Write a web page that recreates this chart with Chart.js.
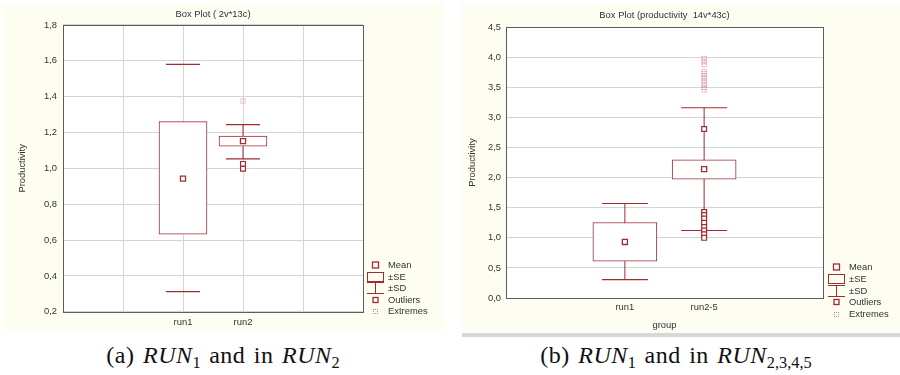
<!DOCTYPE html>
<html>
<head>
<meta charset="utf-8">
<script src="https://cdn.jsdelivr.net/npm/chart.js@4.4.1/dist/chart.umd.min.js"></script>
<style>
  body { margin: 0; width: 900px; height: 375px; background: #fff; position: relative; overflow: hidden;
         font-family: 'Liberation Sans', Arial, sans-serif; }
  .panel { position: absolute; background: #fdfdf2; }
  #panelA { left: 3px; top: 3px; width: 442px; height: 327px; }
  #panelB { left: 462px; top: 3px; width: 438px; height: 330px; }
  #stripB { position: absolute; left: 462px; top: 333px; width: 438px; height: 4px; background: #d8d8d8; }
  .panel > canvas { position: absolute; left: 0; top: 0; }
  .legend { position: absolute; font-size: 9.4px; color: #333; }
  .legend .row { position: absolute; left: 0; height: 12px; width: 80px; }
  .legend .row canvas { position: absolute; left: 0; top: 0; }
  .legend .row span { position: absolute; left: 21px; top: 0; line-height: 12px; white-space: nowrap; }
  .caption { position: absolute; top: 341px; line-height: 28px; font-family: 'Liberation Serif', serif;
             font-size: 24px; letter-spacing: 0.5px; word-spacing: 2px; color: #111; white-space: nowrap;
             transform: translateX(-50%); }
  .caption sub { font-size: 68%; vertical-align: -0.28em; line-height: 0; letter-spacing: 0; }
</style>
</head>
<body>
<div class="panel" id="panelA"><canvas id="chartA" width="442" height="327"></canvas></div>
<div class="panel" id="panelB"><canvas id="chartB" width="438" height="330"></canvas></div>
<div id="stripB"></div>
<div class="legend" id="legendA" style="left:367px; top:259px;"></div>
<div class="legend" id="legendB" style="left:828px; top:261px;"></div>
<div class="caption" style="left:223px;">(a) <i>RUN</i><sub>1</sub> and in <i>RUN</i><sub>2</sub></div>
<div class="caption" style="left:676px;">(b) <i>RUN</i><sub>1</sub> and in <i>RUN</i><sub>2,3,4,5</sub></div>

<script>
// Panel (a): run1 vs run2
const categoriesA = ['run1', 'run2'];
const meanA = [0.943, 1.152];
const seLowA = [0.633, 1.124];
const seHighA = [1.261, 1.180];
const sdLowA = [0.313, 1.053];
const sdHighA = [1.580, 1.244];
const outliersA = [[], [1.025, 0.998]];
const extremesA = [[], [1.376]];
const stemA = [false, true];

// Panel (b): run1 vs run2-5
const categoriesB = ['run1', 'run2-5'];
const meanB = [0.932, 2.142];
const seLowB = [0.611, 1.975];
const seHighB = [1.255, 2.297];
const sdLowB = [0.306, 1.122];
const sdHighB = [1.571, 3.162];
const outliersB = [[], [2.81, 1.43, 1.38, 1.32, 1.25, 1.18, 1.12, 1.06, 1.00]];
const extremesB = [[], [3.98, 3.93, 3.88, 3.77, 3.73, 3.69, 3.65, 3.60, 3.55, 3.50, 3.46]];
const stemB = [true, true];

const legendLabels = ['Mean', '±SE', '±SD', 'Outliers', 'Extremes'];

const RED = '#a02c32';
const PINK = '#d77f84';
const GRID = '#d4d4d4';
const FRAME = '#5c5c5c';
const TEXT = '#333';
const FONT = { family: "'Liberation Sans', Arial, sans-serif", size: 9.4 };

// small glyphs used by the legend (and for extreme points)
function glyph(kind, w, h) {
  const c = document.createElement('canvas');
  c.width = w; c.height = h;
  const g = c.getContext('2d');
  g.strokeStyle = RED;
  g.lineWidth = 1;
  const cx = Math.floor(w / 2) + 0.5;
  if (kind === 'mean') {
    g.lineWidth = 1.3;
    g.strokeRect(cx - 3, h / 2 - 3, 6, 6);
  } else if (kind === 'se') {
    g.strokeRect(0.5, 1.5, w - 1, h - 3);
  } else if (kind === 'sd') {
    g.beginPath();
    g.moveTo(0, 0.5); g.lineTo(w, 0.5);
    g.moveTo(0, h - 0.5); g.lineTo(w, h - 0.5);
    g.moveTo(cx, 0.5); g.lineTo(cx, h - 0.5);
    g.stroke();
  } else if (kind === 'outlier') {
    g.lineWidth = 1.3;
    g.strokeRect(cx - 2.5, h / 2 - 2.5, 5, 5);
  } else if (kind === 'extreme') {
    g.fillStyle = PINK;
    const x0 = Math.floor(w / 2) - 2, y0 = Math.floor(h / 2) - 2;
    for (let i = 0; i < 5; i++) {
      for (let j = 0; j < 5; j++) {
        const edge = i === 0 || j === 0 || i === 4 || j === 4;
        if (edge && (i + j) % 2 === 0) g.fillRect(x0 + i, y0 + j, 1, 1);
      }
    }
  }
  return c;
}

function buildLegend(id, pitch) {
  const box = document.getElementById(id);
  const kinds = ['mean', 'se', 'sd', 'outlier', 'extreme'];
  legendLabels.forEach((text, i) => {
    const row = document.createElement('div');
    row.className = 'row';
    row.style.top = (i * pitch) + 'px';
    row.appendChild(glyph(kinds[i], 17, 12));
    const span = document.createElement('span');
    span.textContent = text;
    row.appendChild(span);
    box.appendChild(row);
  });
}

const plotFrame = {
  id: 'plotFrame',
  beforeDraw(chart) {
    const { ctx, chartArea: a } = chart;
    ctx.save();
    ctx.fillStyle = '#fff';
    ctx.fillRect(a.left, a.top, a.right - a.left, a.bottom - a.top);
    ctx.restore();
  },
  beforeDatasetsDraw(chart) {
    const { ctx, chartArea: a } = chart;
    ctx.save();
    ctx.strokeStyle = FRAME;
    ctx.lineWidth = 1;
    ctx.strokeRect(Math.round(a.left) + 0.5, Math.round(a.top) + 0.5,
                   Math.round(a.right) - Math.round(a.left), Math.round(a.bottom) - Math.round(a.top));
    ctx.restore();
  }
};

const fmt = v => Number(v).toFixed(1).replace('.', ',');

function boxPlot(canvasId, s) {
  const labels = s.labels;
  const idx = l => s.cats.indexOf(l);
  const boxData = labels.map(l => idx(l) < 0 ? null : [s.seLow[idx(l)], s.seHigh[idx(l)]]);
  const stemData = s.cats.flatMap((c, i) => s.stem[i]
    ? [{ x: c, y: s.sdLow[i] }, { x: c, y: s.sdHigh[i] }, { x: c, y: null }] : []);
  const capData = s.cats.flatMap((c, i) => [{ x: c, y: s.sdLow[i] }, { x: c, y: s.sdHigh[i] }]);
  const meanData = s.cats.map((c, i) => ({ x: c, y: s.mean[i] }));
  const outData = s.cats.flatMap((c, i) => s.outliers[i].map(v => ({ x: c, y: v })));
  const extData = s.cats.flatMap((c, i) => s.extremes[i].map(v => ({ x: c, y: v })));

  return new Chart(document.getElementById(canvasId), {
    type: 'bar',
    data: {
      labels: labels,
      datasets: [
        { type: 'line', label: 'Mean', data: meanData, showLine: false, order: 0,
          pointStyle: 'rect', pointRadius: 3.6, pointBorderWidth: 1.3,
          pointBorderColor: RED, pointBackgroundColor: '#fff' },
        { type: 'line', label: 'Outliers', data: outData, showLine: false, order: 1,
          pointStyle: 'rect', pointRadius: 3.4, pointBorderWidth: 1.2,
          pointBorderColor: RED, pointBackgroundColor: '#fff' },
        { type: 'line', label: 'Extremes', data: extData, showLine: false, order: 1,
          pointStyle: glyph('extreme', 7, 7), pointRadius: 3 },
        { type: 'bar', label: '±SE', data: boxData, order: 2,
          backgroundColor: '#fff', borderColor: RED, borderWidth: 1, borderSkipped: false,
          barThickness: s.boxWidth },
        { type: 'line', label: '±SD caps', data: capData, showLine: false, order: 3,
          pointStyle: 'line', pointRadius: s.capRadius, pointBorderWidth: 1.2, pointBorderColor: RED },
        { type: 'line', label: '±SD', data: stemData, order: 4, spanGaps: false,
          borderColor: RED, borderWidth: 1, pointRadius: 0 }
      ]
    },
    options: {
      responsive: false,
      animation: false,
      devicePixelRatio: 1,
      events: [],
      layout: { padding: { left: 0, top: 0, right: s.padRight, bottom: 0 } },
      plugins: {
        legend: { display: false },
        tooltip: { enabled: false },
        title: {
          display: true, text: s.title, color: TEXT, fullSize: false,
          font: { ...FONT, weight: 'normal' }, padding: s.titlePad
        }
      },
      scales: {
        x: {
          offset: s.offset,
          afterFit: sc => { sc.height = s.xHeight; },
          grid: { display: s.vGrid, offset: false, color: GRID, drawTicks: false },
          border: { display: false },
          ticks: { color: TEXT, font: FONT, padding: s.xTickPad, autoSkip: false, maxRotation: 0 },
          title: { display: !!s.xTitle, text: s.xTitle, color: TEXT, font: FONT,
                   padding: { top: 0, bottom: 2.4 } }
        },
        y: {
          min: s.yMin, max: s.yMax,
          afterFit: sc => { sc.width = s.yWidth; },
          grid: { color: GRID, drawTicks: false },
          border: { display: false },
          ticks: { stepSize: s.yStep, color: TEXT, font: FONT, padding: s.yTickPad, callback: fmt },
          title: { display: true, text: 'Productivity', color: TEXT, font: FONT,
                   padding: { top: s.yTitlePad, bottom: 0 } }
        }
      }
    },
    plugins: [plotFrame]
  });
}

boxPlot('chartA', {
  cats: categoriesA, labels: ['', '', ...categoriesA, '', ''],
  mean: meanA, seLow: seLowA, seHigh: seHighA, sdLow: sdLowA, sdHigh: sdHighA,
  outliers: outliersA, extremes: extremesA, stem: stemA,
  title: 'Box Plot ( 2v*13c)', titlePad: { top: 5.3, bottom: 5.4 },
  yMin: 0.2, yMax: 1.8, yStep: 0.2, yWidth: 60, yTickPad: 6, yTitlePad: 13.4,
  xHeight: 18, xTickPad: 5, xTitle: '', offset: false, vGrid: true,
  padRight: 82, boxWidth: 48, capRadius: 17
});

boxPlot('chartB', {
  cats: categoriesB, labels: ['', ...categoriesB, ''],
  mean: meanB, seLow: seLowB, seHigh: seHighB, sdLow: sdLowB, sdHigh: sdHighB,
  outliers: outliersB, extremes: extremesB, stem: stemB,
  title: 'Box Plot (productivity  14v*43c)', titlePad: { top: 7, bottom: 6 },
  yMin: 0, yMax: 4.5, yStep: 0.5, yWidth: 44, yTickPad: 5, yTitlePad: 4.4,
  xHeight: 35, xTickPad: 4, xTitle: 'group', offset: true, vGrid: false,
  padRight: 77, boxWidth: 64, capRadius: 23
});

buildLegend('legendA', 11.5);
buildLegend('legendB', 11.8);
</script>
</body>
</html>
